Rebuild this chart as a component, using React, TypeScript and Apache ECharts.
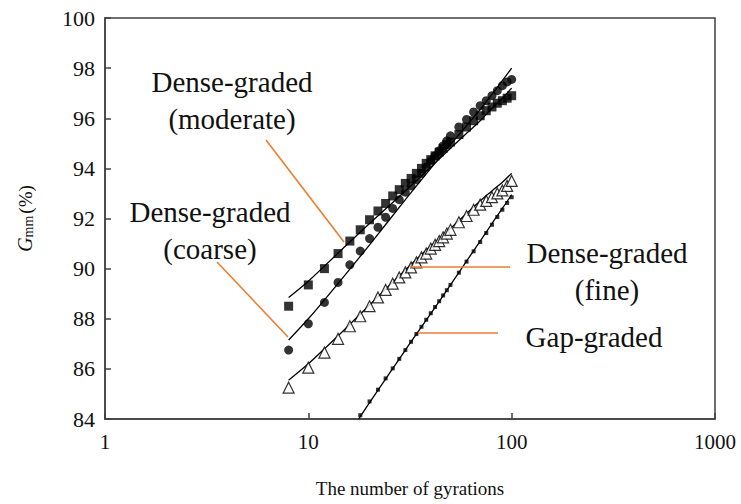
import React, { useEffect, useRef } from "react";
import * as echarts from "echarts";

// Gyration counts at which the measurements are plotted
const gyrations = [8, 10, 12, 14, 16, 18, 20, 22, 24, 26, 28, 30, 32, 34, 36, 38, 40, 42, 44, 46, 48, 50, 55, 60, 65, 70, 75, 80, 85, 90, 95, 100];

// %Gmm measured values
const moderate = [88.5, 89.35, 90.0, 90.6, 91.1, 91.55, 91.95, 92.3, 92.6, 92.9, 93.15, 93.4, 93.6, 93.8, 94.0, 94.2, 94.35, 94.5, 94.65, 94.8, 94.95, 95.05, 95.35, 95.65, 95.9, 96.1, 96.3, 96.45, 96.6, 96.7, 96.8, 96.9];
const coarse = [86.75, 87.8, 88.65, 89.45, 90.15, 90.7, 91.2, 91.65, 92.05, 92.4, 92.75, 93.05, 93.3, 93.55, 93.8, 94.05, 94.3, 94.5, 94.7, 94.9, 95.1, 95.3, 95.65, 95.95, 96.25, 96.5, 96.7, 96.9, 97.1, 97.3, 97.45, 97.55];
const fine = [85.25, 86.05, 86.65, 87.2, 87.7, 88.1, 88.5, 88.85, 89.15, 89.4, 89.65, 89.85, 90.05, 90.25, 90.45, 90.6, 90.8, 90.95, 91.1, 91.25, 91.4, 91.55, 91.85, 92.1, 92.35, 92.55, 92.7, 92.85, 93.0, 93.12, 93.3, 93.5];

const gapGyrations = [18, 20, 22, 24, 26, 28, 30, 32, 34, 36, 38, 40, 42, 44, 46, 48, 50, 55, 60, 65, 70, 75, 80, 85, 90, 95, 100];
const gap = [84.15, 84.7, 85.17, 85.62, 86.02, 86.4, 86.75, 87.08, 87.39, 87.68, 87.96, 88.22, 88.47, 88.7, 88.93, 89.14, 89.35, 89.84, 90.28, 90.69, 91.06, 91.42, 91.75, 92.06, 92.35, 92.62, 92.85];

// Fitted curves
const fitGyrations = [8, 10, 12, 15, 20, 30, 40, 50, 60, 70, 80, 90, 100];
const moderateFit = [88.85, 89.5, 90.1, 90.85, 91.8, 93.1, 94.05, 94.8, 95.4, 95.9, 96.4, 96.8, 97.2];
const coarseFit = [87.15, 88.0, 88.75, 89.7, 90.95, 92.75, 94.0, 94.95, 95.7, 96.35, 96.95, 97.5, 98.0];
const fineFit = [85.55, 86.2, 86.8, 87.55, 88.55, 89.95, 90.9, 91.6, 92.2, 92.7, 93.1, 93.45, 93.8];
const gapFitGyrations = [17.7, 20, 30, 40, 50, 60, 70, 80, 90, 100];
const gapFit = [84.0, 84.65, 86.75, 88.2, 89.35, 90.3, 91.1, 91.8, 92.4, 92.95];

const xTicks = [1, 10, 100, 1000];

const pairs = (xs: number[], ys: number[]) => xs.map((x, i) => [x, ys[i]]);

const SERIF = "Liberation Serif";
const ORANGE = "#ED7D31";

export default function App() {
  const ref = useRef<HTMLDivElement>(null);
  useEffect(() => {
    if (!ref.current) return;
    const chart = echarts.init(ref.current, undefined, { renderer: "svg" });
    const fitLine = (xs: number[], ys: number[]) => ({
      type: "line",
      data: pairs(xs, ys),
      smooth: 0.4,
      showSymbol: false,
      lineStyle: { color: "#000", width: 1.3 },
      z: 2,
    });
    const note = (x: number, y: number, text: string) => ({
      type: "text",
      x,
      y,
      z: 10,
      style: {
        text,
        fontFamily: SERIF,
        fontSize: 29,
        fill: "#111",
        textAlign: "center",
        textVerticalAlign: "middle",
        lineHeight: 37,
      },
    });
    chart.setOption({
      animation: false,
      backgroundColor: "#fff",
      grid: { left: 105, right: 26, top: 18, bottom: 85, show: true, borderColor: "#404040", borderWidth: 1.5 },
      xAxis: {
        type: "log",
        logBase: 10,
        min: xTicks[0],
        max: xTicks[xTicks.length - 1],
        name: "The number of gyrations",
        nameLocation: "middle",
        nameGap: 60,
        nameTextStyle: { fontFamily: SERIF, fontSize: 19, color: "#111" },
        axisLine: { lineStyle: { color: "#404040", width: 1.5 } },
        axisTick: { inside: true, length: 6, lineStyle: { color: "#404040", width: 1.5 } },
        minorTick: { show: false },
        splitLine: { show: false },
        axisLabel: {
          fontFamily: SERIF,
          fontSize: 21,
          color: "#111",
          margin: 12,
          formatter: (v: number) => String(Math.round(v)),
        },
      },
      yAxis: {
        type: "value",
        min: 84,
        max: 100,
        interval: 2,
        name: "{g|G}{sub|mm}{p|(%)}",
        nameLocation: "middle",
        nameGap: 70,
        nameTextStyle: {
          fontFamily: SERIF,
          color: "#111",
          rich: {
            g: { fontFamily: SERIF, fontSize: 20, fontStyle: "italic", color: "#111", verticalAlign: "bottom", lineHeight: 22 },
            sub: { fontFamily: SERIF, fontSize: 14, color: "#111", verticalAlign: "bottom", lineHeight: 16, padding: [0, 2, 0, 0] },
            p: { fontFamily: SERIF, fontSize: 19, color: "#111", verticalAlign: "bottom", lineHeight: 22 },
          },
        },
        axisLine: { show: true, lineStyle: { color: "#404040", width: 1.5 } },
        axisTick: { show: true, inside: true, length: 6, lineStyle: { color: "#404040", width: 1.5 } },
        splitLine: { show: false },
        axisLabel: { fontFamily: SERIF, fontSize: 22, color: "#111", margin: 10 },
      },
      series: [
        fitLine(fitGyrations, moderateFit),
        fitLine(fitGyrations, coarseFit),
        fitLine(fitGyrations, fineFit),
        fitLine(gapFitGyrations, gapFit),
        {
          type: "scatter",
          data: pairs(gyrations, moderate),
          symbol: "rect",
          symbolSize: 9,
          itemStyle: { color: "#000" },
          z: 3,
        },
        {
          type: "scatter",
          data: pairs(gyrations, coarse),
          symbol: "circle",
          symbolSize: 9,
          itemStyle: { color: "#000" },
          z: 3,
        },
        {
          type: "scatter",
          data: pairs(gyrations, fine),
          symbol: "triangle",
          symbolSize: 11,
          itemStyle: { color: "#fff", borderColor: "#000", borderWidth: 1.2 },
          z: 3,
        },
        {
          type: "scatter",
          data: pairs(gapGyrations, gap),
          symbol: "rect",
          symbolSize: 4,
          itemStyle: { color: "#000" },
          z: 3,
        },
      ],
      graphic: [
        { type: "line", shape: { x1: 266, y1: 140, x2: 344, y2: 242 }, style: { stroke: ORANGE, lineWidth: 1.6 }, z: 10 },
        { type: "line", shape: { x1: 217, y1: 262, x2: 288, y2: 337 }, style: { stroke: ORANGE, lineWidth: 1.6 }, z: 10 },
        { type: "line", shape: { x1: 410, y1: 267, x2: 510, y2: 267 }, style: { stroke: ORANGE, lineWidth: 1.6 }, z: 10 },
        { type: "line", shape: { x1: 418, y1: 333, x2: 498, y2: 333 }, style: { stroke: ORANGE, lineWidth: 1.6 }, z: 10 },
        note(232, 100.5, "Dense-graded\n(moderate)"),
        note(210, 230.5, "Dense-graded\n(coarse)"),
        note(607, 271.5, "Dense-graded\n(fine)"),
        note(594, 337, "Gap-graded"),
      ],
    });
    return () => chart.dispose();
  }, []);
  return <div ref={ref} style={{ position: "fixed", left: 0, top: 0, width: 741, height: 504 }} />;
}
